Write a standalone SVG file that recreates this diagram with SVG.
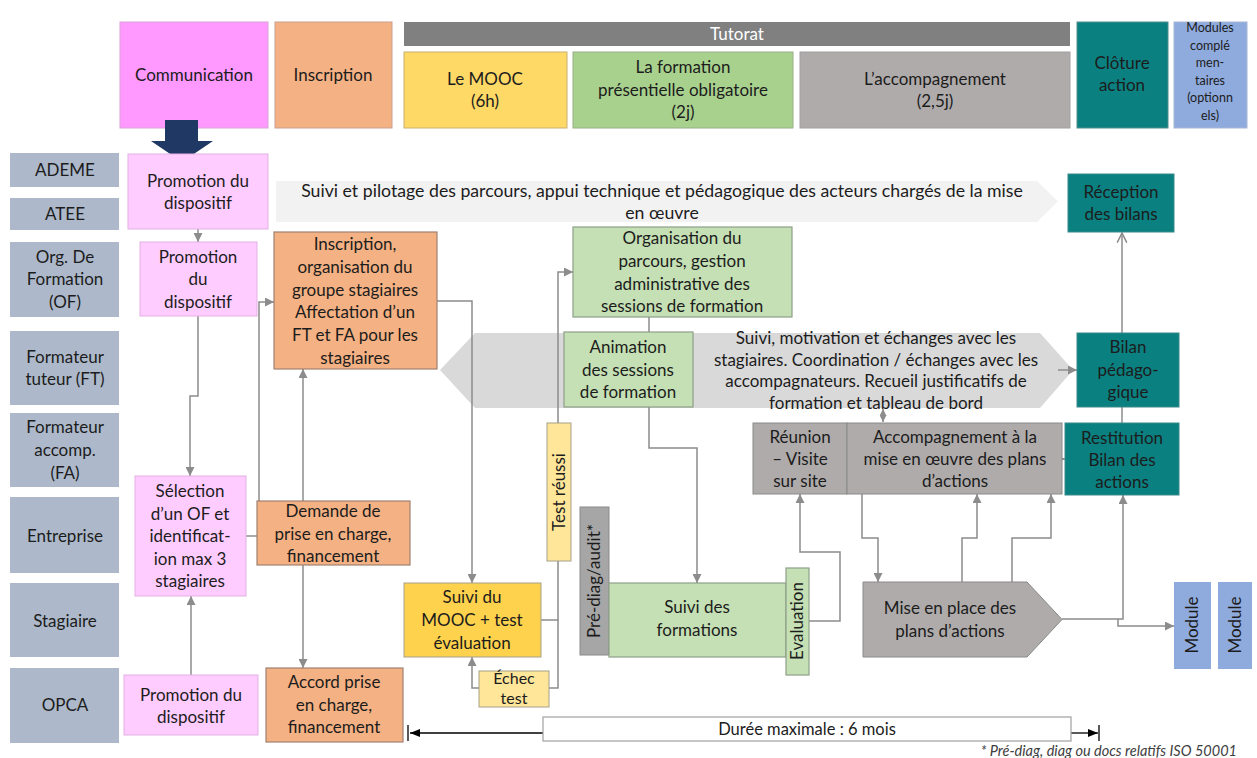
<svg xmlns="http://www.w3.org/2000/svg" width="1257" height="758" viewBox="0 0 1257 758">
<style>
text{font-family:Lato,"Liberation Sans",sans-serif;font-size:17px;fill:#1c1c1c;text-anchor:middle}
.sm{font-size:12.5px}
.wh{fill:#ffffff}
.lab{fill:#ADB9CA}
.pk{fill:#FFCCFF;stroke:#E3B0E3;stroke-width:1}
.or{fill:#F4B183;stroke:#A08070;stroke-width:1.2}
.gr{fill:#C5E0B4;stroke:#8E9E88;stroke-width:1.2}
.ye{fill:#FFE699;stroke:#A6A08A;stroke-width:1}
.go{fill:#FFD24D;stroke:#A6A08A;stroke-width:1}
.gy{fill:#AFABAB;stroke:#8A8A8A;stroke-width:1}
.dg{fill:#A6A6A6;stroke:#8A8A8A;stroke-width:1}
.tl{fill:#0B8080;stroke:#3A8A8A;stroke-width:1}
.bl{fill:#8FAADC}
.c{fill:none;stroke:#8C8C8C;stroke-width:1.5}
.k{fill:none;stroke:#000;stroke-width:1.3}
.ft{font-size:14.5px;font-style:italic;fill:#404040;text-anchor:end}
</style>
<defs>
<marker id="ah" viewBox="0 0 10 10" refX="10" refY="5" markerWidth="9" markerHeight="9" markerUnits="userSpaceOnUse" orient="auto"><path d="M0,0 L10,5 L0,10 z" fill="#8C8C8C"/></marker>
<marker id="as" viewBox="0 0 10 10" refX="10" refY="5" markerWidth="7" markerHeight="7" markerUnits="userSpaceOnUse" orient="auto-start-reverse"><path d="M0,0 L10,5 L0,10 z" fill="#8C8C8C"/></marker>
<marker id="oa" viewBox="0 0 10 10" refX="9" refY="5" markerWidth="12" markerHeight="12" markerUnits="userSpaceOnUse" orient="auto"><path d="M1,1 L9,5 L1,9" fill="none" stroke="#8C8C8C" stroke-width="1.3"/></marker>
<marker id="ak" viewBox="0 0 10 10" refX="10" refY="5" markerWidth="10" markerHeight="10" markerUnits="userSpaceOnUse" orient="auto"><path d="M0,1 L10,5 L0,9 z" fill="#000"/></marker>
</defs>

<g id="header">
<g id="h-communication"><rect x="120" y="22" width="148" height="106" fill="#FF99FF" stroke="#D8A0D8"/><text x="194" y="81">Communication</text></g>
<g id="h-inscription"><rect x="275" y="22" width="117" height="106" fill="#F4B183" stroke="#C8A090"/><text x="333" y="81">Inscription</text></g>
<g id="h-tutorat"><rect x="404" y="22" width="666" height="24" fill="#808080"/><text class="wh" x="737" y="40">Tutorat</text></g>
<g id="h-mooc"><rect x="404" y="52" width="163" height="76" fill="#FFD966" stroke="#C8B070"/><text x="485" y="85">Le MOOC<tspan x="485" dy="22">(6h)</tspan></text></g>
<g id="h-formation"><rect x="573" y="52" width="220" height="76" fill="#A9D18E" stroke="#98B088"/><text x="683" y="73">La formation<tspan x="683" dy="22.5">présentielle obligatoire</tspan><tspan x="683" dy="22.5">(2j)</tspan></text></g>
<g id="h-accomp"><rect x="800" y="52" width="270" height="76" fill="#AFABAB" stroke="#A0A0A0"/><text x="935" y="85">L’accompagnement<tspan x="935" dy="22">(2,5j)</tspan></text></g>
<g id="h-cloture"><rect x="1077" y="22" width="91" height="106" fill="#0B8080" stroke="#508F8F"/><text x="1122" y="69">Clôture<tspan x="1122" dy="22">action</tspan></text></g>
<g id="h-modules"><rect x="1174" y="22" width="73" height="106" fill="#8FAADC" stroke="#A8B8D8"/><text class="sm" x="1210" y="32">Modules<tspan x="1210" dy="17.5">complé</tspan><tspan x="1210" dy="17.5">men-</tspan><tspan x="1210" dy="17.5">taires</tspan><tspan x="1210" dy="17.5">(optionn</tspan><tspan x="1210" dy="17.5">els)</tspan></text></g>
</g>

<g id="big-arrow"><path d="M165,120 H198 V141 H213 L182,162 L151,141 H165 Z" fill="#203864"/></g>

<g id="lanes">
<g id="l-ademe"><rect class="lab" x="10" y="153" width="109" height="34"/><text x="65" y="176">ADEME</text></g>
<g id="l-atee"><rect class="lab" x="10" y="198" width="109" height="32"/><text x="65" y="220">ATEE</text></g>
<g id="l-of"><rect class="lab" x="10" y="242" width="109" height="75"/><text x="65" y="263">Org. De<tspan x="65" dy="22">Formation</tspan><tspan x="65" dy="23">(OF)</tspan></text></g>
<g id="l-ft"><rect class="lab" x="10" y="331" width="109" height="74"/><text x="65" y="363">Formateur<tspan x="65" dy="21.5">tuteur (FT)</tspan></text></g>
<g id="l-fa"><rect class="lab" x="10" y="413" width="109" height="74"/><text x="65" y="433">Formateur<tspan x="65" dy="23">accomp.</tspan><tspan x="65" dy="23">(FA)</tspan></text></g>
<g id="l-entreprise"><rect class="lab" x="10" y="497" width="109" height="76"/><text x="65" y="542">Entreprise</text></g>
<g id="l-stagiaire"><rect class="lab" x="10" y="583" width="109" height="74"/><text x="65" y="627">Stagiaire</text></g>
<g id="l-opca"><rect class="lab" x="10" y="668" width="109" height="75"/><text x="65" y="711">OPCA</text></g>
</g>

<g id="banner-top"><path d="M276,181 H1037 L1058,201.5 L1037,222 H276 Z" fill="#F2F2F2"/><text x="662" y="197" style="font-size:17.7px">Suivi et pilotage des parcours, appui technique et pédagogique des acteurs chargés de la mise<tspan x="662" dy="21.5">en œuvre</tspan></text></g>

<g id="banner-mid"><path d="M440,370 L475,333 H1040 L1073,370 L1040,408 H475 Z" fill="#D9D9D9"/><text x="876" y="344">Suivi, motivation et échanges avec les<tspan x="876" dy="21.7">stagiaires. Coordination / échanges avec les</tspan><tspan x="876" dy="21.7">accompagnateurs. Recueil justificatifs de</tspan><tspan x="876" dy="21.7">formation et tableau de bord</tspan></text></g>

<g id="connectors">
<path class="c" d="M198,229 V242" marker-end="url(#ah)"/>
<path class="c" d="M198,316 V396 H190 V476" marker-end="url(#ah)"/>
<path class="c" d="M191,675 V596" marker-end="url(#ah)"/>
<path class="c" d="M246,536 H257"/>
<path class="c" d="M259,501 V302 H274" marker-end="url(#ah)"/>
<path class="c" d="M303,501 V369" marker-end="url(#ah)"/>
<path class="c" d="M303,565 V668" marker-end="url(#ah)"/>
<path class="c" d="M437,301 H472 V583" marker-end="url(#ah)"/>
<path class="c" d="M541,620 H558 V561"/>
<path class="c" d="M558,620 V688 H549"/>
<path class="c" d="M558,423 V272 H573" marker-end="url(#ah)"/>
<path class="c" d="M479,688 H472 V657" marker-end="url(#ah)"/>
<path class="c" d="M649,317 V332"/>
<path class="c" d="M649,407 V448 H697 V583" marker-end="url(#ah)"/>
<path class="c" d="M809,621 H840 V552 H800 V494" marker-end="url(#ah)"/>
<path class="c" d="M862,494 V538 H878 V582" marker-end="url(#ah)"/>
<path class="c" d="M962,582 V538 H977 V494" marker-end="url(#ah)"/>
<path class="c" d="M1012,582 V538 H1051 V494" marker-end="url(#ah)"/>
<path class="c" d="M1062,619 H1123 V495" marker-end="url(#ah)"/>
<path class="c" d="M1118,619 V626 H1174" marker-end="url(#ah)"/>
<path class="c" d="M1122,423 V407"/>
<path class="c" d="M1122,333 V233" marker-end="url(#oa)"/>
<path class="c" d="M1058,370 H1077" marker-end="url(#ah)"/>
<path class="c" d="M883,409 V422" marker-start="url(#as)" marker-end="url(#as)"/>
<path class="c" d="M1057,459 H1065" marker-end="url(#as)"/>
</g>

<g id="n-promo1"><rect class="pk" x="128" y="154" width="140" height="75"/><text x="198" y="187">Promotion du<tspan x="198" dy="21.5">dispositif</tspan></text></g>
<g id="n-promo2"><rect class="pk" x="140" y="242" width="117" height="74"/><text x="198" y="263">Promotion<tspan x="198" dy="22">du</tspan><tspan x="198" dy="23">dispositif</tspan></text></g>
<g id="n-selection"><rect class="pk" x="135" y="476" width="111" height="120"/><text x="190" y="497">Sélection<tspan x="190" dy="22.5">d’un OF et</tspan><tspan x="190" dy="22.5">identificat-</tspan><tspan x="190" dy="22.5">ion max 3</tspan><tspan x="190" dy="22.5">stagiaires</tspan></text></g>
<g id="n-promo3"><rect class="pk" x="124" y="675" width="134" height="60"/><text x="191" y="701">Promotion du<tspan x="191" dy="21.5">dispositif</tspan></text></g>

<g id="n-inscription"><rect class="or" x="274" y="232" width="163" height="137"/><text x="355" y="250">Inscription,<tspan x="355" dy="22.8">organisation du</tspan><tspan x="355" dy="22.8">groupe stagiaires</tspan><tspan x="355" dy="22.8">Affectation d’un</tspan><tspan x="355" dy="22.8">FT et FA pour les</tspan><tspan x="355" dy="22.8">stagiaires</tspan></text></g>
<g id="n-demande"><rect class="or" x="257" y="501" width="153" height="64"/><text x="333" y="517">Demande de<tspan x="333" dy="22.5">prise en charge,</tspan><tspan x="333" dy="22.5">financement</tspan></text></g>
<g id="n-accord"><rect class="or" x="266" y="668" width="137" height="74"/><text x="334" y="688">Accord prise<tspan x="334" dy="22.5">en charge,</tspan><tspan x="334" dy="22.5">financement</tspan></text></g>

<g id="n-organisation"><rect class="gr" x="573" y="227" width="219" height="90"/><text x="682" y="244">Organisation du<tspan x="682" dy="22.8">parcours, gestion</tspan><tspan x="682" dy="22.8">administrative des</tspan><tspan x="682" dy="22.8">sessions de formation</tspan></text></g>
<g id="n-animation"><rect class="gr" x="564" y="332" width="129" height="75"/><text x="628" y="353">Animation<tspan x="628" dy="22.5">des sessions</tspan><tspan x="628" dy="22.5">de formation</tspan></text></g>

<g id="n-suivi-mooc"><rect class="go" x="404" y="583" width="137" height="74"/><text x="472" y="603">Suivi du<tspan x="472" dy="23">MOOC + test</tspan><tspan x="472" dy="23">évaluation</tspan></text></g>
<g id="n-test-reussi"><rect class="ye" x="547" y="423" width="24" height="138"/><text transform="translate(565,492) rotate(-90)">Test réussi</text></g>
<g id="n-echec"><rect class="ye" x="479" y="671" width="70" height="36"/><text x="514" y="684" style="font-size:16px">Échec<tspan x="514" dy="20">test</tspan></text></g>

<g id="n-prediag"><rect class="dg" x="580" y="507" width="29" height="148"/><text transform="translate(600,581) rotate(-90)">Pré-diag/audit*</text></g>
<g id="n-suivi-formations"><rect class="gr" x="609" y="583" width="177" height="74"/><text x="697" y="613">Suivi des<tspan x="697" dy="22.5">formations</tspan></text></g>
<g id="n-evaluation"><rect class="gr" x="786" y="568" width="23" height="107"/><text transform="translate(803,621) rotate(-90)">Evaluation</text></g>

<g id="n-reunion"><rect class="gy" x="753" y="423" width="94" height="71"/><text x="800" y="443">Réunion<tspan x="800" dy="22">– Visite</tspan><tspan x="800" dy="22">sur site</tspan></text></g>
<g id="n-accompagnement"><rect class="gy" x="847" y="423" width="215" height="71"/><text x="955" y="443">Accompagnement à la<tspan x="955" dy="22">mise en œuvre des plans</tspan><tspan x="955" dy="22">d’actions</tspan></text></g>
<g id="n-mise"><path class="gy" d="M863,582 H1027 L1062,619.5 L1027,657 H863 Z"/><text x="950" y="614">Mise en place des<tspan x="950" dy="22.5">plans d’actions</tspan></text></g>

<g id="n-reception"><rect class="tl" x="1068" y="174" width="106" height="58"/><text x="1121" y="198">Réception<tspan x="1121" dy="21.5">des bilans</tspan></text></g>
<g id="n-bilan"><rect class="tl" x="1077" y="333" width="102" height="74"/><text x="1128" y="353">Bilan<tspan x="1128" dy="22.5">pédago-</tspan><tspan x="1128" dy="22.5">gique</tspan></text></g>
<g id="n-restitution"><rect class="tl" x="1065" y="423" width="114" height="72"/><text x="1122" y="444">Restitution<tspan x="1122" dy="22">Bilan des</tspan><tspan x="1122" dy="22">actions</tspan></text></g>

<g id="n-module1"><rect class="bl" x="1174" y="582" width="37" height="87"/><text transform="translate(1198,625) rotate(-90)">Module</text></g>
<g id="n-module2"><rect class="bl" x="1218" y="582" width="34" height="87"/><text transform="translate(1241,625) rotate(-90)">Module</text></g>

<g id="duration">
<path class="k" d="M543,733 H410" marker-end="url(#ak)"/>
<path class="k" d="M408,725 V741"/>
<path class="k" d="M1071,733 H1098" marker-end="url(#ak)"/>
<path class="k" d="M1099,725 V741"/>
<rect x="543" y="717" width="528" height="24" fill="#fff" stroke="#A0A0A0" stroke-width="1.2"/>
<text x="807" y="735" style="font-size:16.5px">Durée maximale : 6 mois</text>
</g>
<text class="ft" x="1237" y="756">* Pré-diag, diag ou docs relatifs ISO 50001</text>
</svg>
